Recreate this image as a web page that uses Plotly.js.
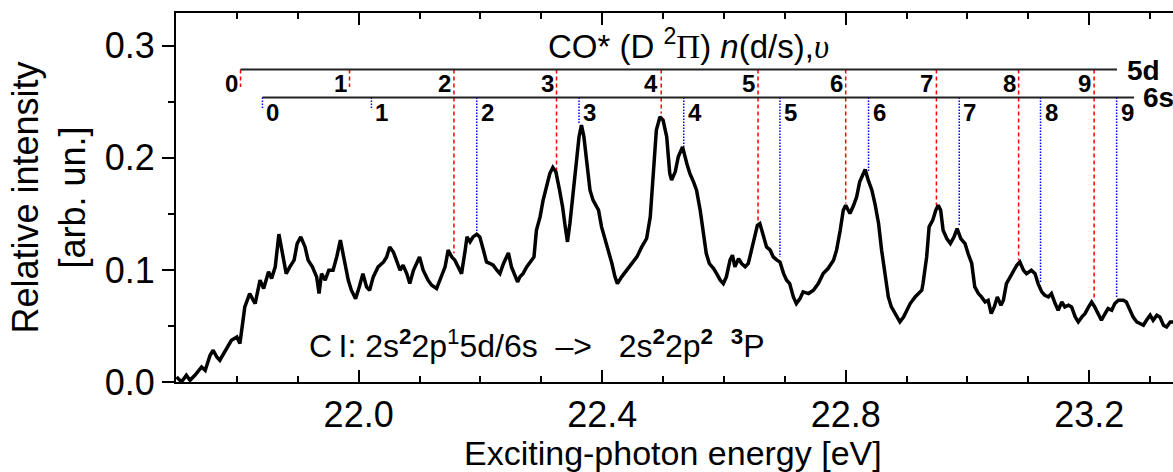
<!DOCTYPE html>
<html>
<head>
<meta charset="utf-8">
<script src="https://cdn.plot.ly/plotly-3.0.1.min.js"></script>
<style>
html,body{margin:0;padding:0;background:#fff;overflow:hidden;}
#chart{width:1173px;height:472px;}
</style>
</head>
<body>
<div id="chart"></div>
<script>
// Exciting-photon energy (eV) and relative intensity (arb. un.)
const energy = [
21.701,21.709,21.717,21.723,21.731,21.742,21.748,21.756,21.761,21.767,21.772,21.780,21.791,21.800,21.805,21.813,21.821,21.830,21.838,21.844,
21.852,21.857,21.863,21.869,21.875,21.881,21.887,21.894,21.899,21.905,21.912,21.917,21.924,21.931,21.935,21.939,21.945,21.951,21.958,21.964,
21.970,21.976,21.983,21.988,21.995,22.001,22.007,22.013,22.018,22.024,22.032,22.041,22.046,22.051,22.057,22.062,22.068,22.073,22.079,22.084,
22.090,22.100,22.106,22.114,22.120,22.128,22.136,22.142,22.147,22.153,22.158,22.164,22.169,22.175,22.178,22.183,22.188,22.194,22.199,22.205,
22.210,22.216,22.221,22.227,22.232,22.238,22.246,22.251,22.257,22.261,22.265,22.270,22.276,22.283,22.288,22.292,22.298,22.303,22.309,22.314,
22.319,22.324,22.330,22.335,22.339,22.343,22.347,22.352,22.357,22.362,22.366,22.370,22.375,22.380,22.385,22.394,22.399,22.407,22.416,22.421,
22.425,22.432,22.440,22.448,22.457,22.465,22.473,22.479,22.484,22.489,22.495,22.500,22.506,22.511,22.514,22.520,22.525,22.532,22.539,22.544,
22.550,22.555,22.561,22.566,22.571,22.576,22.583,22.588,22.594,22.599,22.604,22.610,22.614,22.618,22.624,22.629,22.635,22.640,22.646,22.651,
22.655,22.659,22.665,22.670,22.676,22.681,22.687,22.692,22.698,22.703,22.708,22.714,22.719,22.725,22.730,22.739,22.747,22.755,22.763,22.771,
22.780,22.785,22.791,22.796,22.800,22.807,22.813,22.818,22.823,22.829,22.832,22.837,22.843,22.848,22.854,22.859,22.865,22.870,22.875,22.881,
22.889,22.895,22.900,22.906,22.914,22.919,22.925,22.927,22.933,22.937,22.943,22.948,22.952,22.956,22.960,22.966,22.972,22.978,22.983,22.989,
22.996,23.001,23.007,23.012,23.018,23.023,23.029,23.034,23.039,23.044,23.049,23.055,23.059,23.064,23.070,23.075,23.081,23.086,23.092,23.097,
23.105,23.111,23.116,23.122,23.127,23.133,23.138,23.144,23.149,23.155,23.160,23.166,23.171,23.177,23.182,23.188,23.193,23.199,23.204,23.209,
23.215,23.220,23.226,23.231,23.237,23.242,23.248,23.256,23.261,23.267,23.272,23.278,23.283,23.289,23.294,23.300,23.305,23.311,23.316,23.322,
23.327,23.333,23.340
];
const intensity = [
0.0045,0.0000,0.0060,0.0015,0.0060,0.0134,0.0104,0.0238,0.0283,0.0223,0.0194,0.0268,0.0372,0.0402,0.0343,0.0670,0.0789,0.0700,0.0908,0.0834,
0.0983,0.0923,0.1027,0.1319,0.1146,0.0967,0.1027,0.1087,0.1235,0.1295,0.1205,0.1087,0.1027,0.0938,0.0789,0.0967,0.0908,0.0997,0.0997,0.1116,
0.1265,0.1087,0.0908,0.0819,0.0744,0.0848,0.0967,0.0848,0.0819,0.0938,0.1027,0.1071,0.1116,0.1205,0.1160,0.1087,0.0997,0.1042,0.0967,0.0878,
0.0997,0.1116,0.0997,0.0908,0.0863,0.0834,0.0938,0.1027,0.1176,0.1116,0.1087,0.1027,0.0967,0.1176,0.1295,0.1250,0.1295,0.1319,0.1295,0.1176,
0.1071,0.1057,0.1042,0.0997,0.0967,0.1057,0.1152,0.1027,0.0938,0.0893,0.0938,0.0967,0.1027,0.1087,0.1116,0.1354,0.1473,0.1622,0.1771,0.1860,
0.1914,0.1875,0.1711,0.1562,0.1399,0.1250,0.1414,0.1681,0.1979,0.2188,0.2292,0.2188,0.1949,0.1711,0.1622,0.1533,0.1384,0.1235,0.1057,0.0938,
0.0878,0.0938,0.0997,0.1057,0.1116,0.1205,0.1280,0.1473,0.1889,0.2247,0.2366,0.2336,0.2188,0.1860,0.1801,0.1875,0.2009,0.2098,0.1949,0.1860,
0.1786,0.1711,0.1533,0.1325,0.1146,0.1057,0.1012,0.0967,0.0908,0.0878,0.0938,0.1087,0.1131,0.1027,0.1101,0.1057,0.1027,0.1057,0.1205,0.1325,
0.1399,0.1414,0.1295,0.1205,0.1176,0.1116,0.1087,0.1071,0.0967,0.0908,0.0878,0.0759,0.0700,0.0744,0.0804,0.0789,0.0819,0.0878,0.0967,0.1012,
0.1087,0.1176,0.1354,0.1533,0.1577,0.1503,0.1577,0.1652,0.1786,0.1860,0.1896,0.1801,0.1711,0.1592,0.1414,0.1176,0.0938,0.0759,0.0670,0.0610,
0.0536,0.0580,0.0640,0.0700,0.0759,0.0789,0.0819,0.0878,0.1116,0.1384,0.1444,0.1533,0.1577,0.1533,0.1354,0.1280,0.1235,0.1295,0.1369,0.1280,
0.1235,0.1146,0.1057,0.0848,0.0789,0.0759,0.0714,0.0729,0.0610,0.0670,0.0759,0.0685,0.0729,0.0878,0.0938,0.0997,0.1042,0.1071,0.0997,0.0967,
0.0997,0.0967,0.0878,0.0804,0.0774,0.0759,0.0789,0.0700,0.0640,0.0714,0.0670,0.0685,0.0670,0.0581,0.0536,0.0581,0.0610,0.0670,0.0714,0.0670,
0.0596,0.0551,0.0610,0.0655,0.0640,0.0700,0.0729,0.0729,0.0714,0.0640,0.0581,0.0536,0.0521,0.0506,0.0551,0.0596,0.0551,0.0596,0.0581,0.0506,
0.0491,0.0536,0.0536
];

// CO* (D 2Pi) vibrational progressions: 5d (red dashed) and 6s (blue dotted)
const vibLabels = ['0','1','2','3','4','5','6','7','8','9'];
const levels5d = [21.806,21.985,22.1565,22.325,22.497,22.656,22.800,22.949,23.084,23.208];
const end5d    = [0.2631,0.2631,0.1149,0.1875,0.2396,0.1429,0.1593,0.1577,0.1087,0.0729];
const levels6s = [21.842,22.021,22.194,22.362,22.534,22.692,22.8375,22.9865,23.120,23.245];
const end6s    = [0.2444,0.2444,0.1339,0.2307,0.2098,0.1116,0.1875,0.1399,0.0893,0.0745];
const seriesNames = ['5d','6s'];
const xTitle = 'Exciting-photon energy [eV]';
const yTitle = 'Relative intensity<br>[arb. un.]';

// layout geometry (not data)
const top5d = 0.2789, top6s = 0.2539;
const end5dLine = 23.2456, end6sLine = 23.2736;
const label5dY = 0.2667, label6sY = 0.2408;

function ladder(levels, ends, top){
  const xs=[], ys=[];
  levels.forEach((v,i)=>{ xs.push(v,v,null); ys.push(top,ends[i],null); });
  return {xs, ys};
}
const l5 = ladder(levels5d, end5d, top5d);
const l6 = ladder(levels6s, end6s, top6s);

const FONT = 'Liberation Sans, Arial, Helvetica, sans-serif';
const NB = '\u00A0';

const traces = [
  {x:l5.xs, y:l5.ys, mode:'lines', type:'scatter', line:{color:'#ff0000', width:1.5, dash:'4px,3px'}, hoverinfo:'skip', showlegend:false, cliponaxis:false},
  {x:l6.xs, y:l6.ys, mode:'lines', type:'scatter', line:{color:'#0000ff', width:1.5, dash:'1.5px,1.5px'}, hoverinfo:'skip', showlegend:false, cliponaxis:false},
  {x:energy, y:intensity, mode:'lines', type:'scatter', line:{color:'#000000', width:3.5}, showlegend:false}
];

const shapes = [
  {type:'line', xref:'x', yref:'y', x0:levels5d[0], x1:end5dLine, y0:top5d, y1:top5d, line:{color:'#222', width:2}},
  {type:'line', xref:'x', yref:'y', x0:levels6s[0], x1:end6sLine, y0:top6s, y1:top6s, line:{color:'#222', width:2}}
];

const annotations = [];
vibLabels.forEach((t,i)=>{
  annotations.push({x:levels5d[i], y:label5dY, xref:'x', yref:'y', text:'<b>'+t+'</b>', showarrow:false, xanchor:'right', yanchor:'middle', xshift:-1, font:{family:FONT, size:24, color:'#000'}});
  annotations.push({x:levels6s[i], y:label6sY, xref:'x', yref:'y', text:'<b>'+t+'</b>', showarrow:false, xanchor:'left', yanchor:'middle', xshift:2, font:{family:FONT, size:24, color:'#000'}});
});
annotations.push({x:23.2587, y:0.2783, xref:'x', yref:'y', text:'<b>'+seriesNames[0]+'</b>', showarrow:false, xanchor:'left', yanchor:'middle', font:{family:FONT, size:28, color:'#000'}});
annotations.push({x:23.285, y:0.2542, xref:'x', yref:'y', text:'<b>'+seriesNames[1]+'</b>', showarrow:false, xanchor:'left', yanchor:'middle', font:{family:FONT, size:28, color:'#000'}});
annotations.push({x:22.541, y:0.3015, xref:'x', yref:'y', showarrow:false, xanchor:'center', yanchor:'middle',
  text:'CO* (D <sup>2</sup><span style="font-family:Liberation Serif">Π</span>) <i>n</i>(d/s),<span style="font-family:Liberation Serif"><i>υ</i></span>',
  font:{family:FONT, size:33, color:'#000'}});
annotations.push({x:21.915, y:0.0341, xref:'x', yref:'y', showarrow:false, xanchor:'left', yanchor:'middle',
  text:'C\u2009I: 2s<b><sup>2</sup></b>2p<sup>1</sup>5d/6s'+NB+NB+'\u2013>'+NB+NB+NB+'2s<b><sup>2</sup></b>2p<b><sup>2</sup></b>'+NB+NB+'<b><sup>3</sup></b>P',
  font:{family:FONT, size:32, color:'#000'}});
// x-axis title (annotation so it can sit as low as in the original)
annotations.push({x:0.4985, y:0, xref:'paper', yref:'paper', yshift:-71, showarrow:false, xanchor:'center', yanchor:'middle',
  text:xTitle, font:{family:FONT, size:34, color:'#000'}});

const layout = {
  width:1173, height:472,
  margin:{l:176, r:0, t:13, b:90},
  paper_bgcolor:'#fff', plot_bgcolor:'#fff',
  font:{family:FONT, color:'#000'},
  showlegend:false,
  xaxis:{
    range:[21.7, 23.3376], showgrid:false, zeroline:false,
    showline:true, linecolor:'#000', linewidth:2, mirror:'ticks',
    ticks:'inside', ticklen:12, tickwidth:2, tickcolor:'#000',
    tick0:22.0, dtick:0.4, tickformat:'.1f',
    minor:{dtick:0.1, tick0:22.0, ticks:'inside', ticklen:6, tickwidth:2, tickcolor:'#000'},
    tickfont:{family:FONT, size:36, color:'#000'}
  },
  yaxis:{
    range:[0, 0.3292], showgrid:false, zeroline:false,
    showline:true, linecolor:'#000', linewidth:2, mirror:false,
    ticks:'outside', ticklen:12, tickwidth:2, tickcolor:'#000',
    tick0:0, dtick:0.1, tickformat:'.1f',
    minor:{dtick:0.05, ticks:'outside', ticklen:6, tickwidth:2, tickcolor:'#000'},
    tickfont:{family:FONT, size:36, color:'#000'},
    title:{text:yTitle, font:{family:FONT, size:36, color:'#000'}, standoff:8}
  },
  shapes:shapes,
  annotations:annotations
};

Plotly.newPlot('chart', traces, layout, {displayModeBar:false, staticPlot:true});
</script>
</body>
</html>
